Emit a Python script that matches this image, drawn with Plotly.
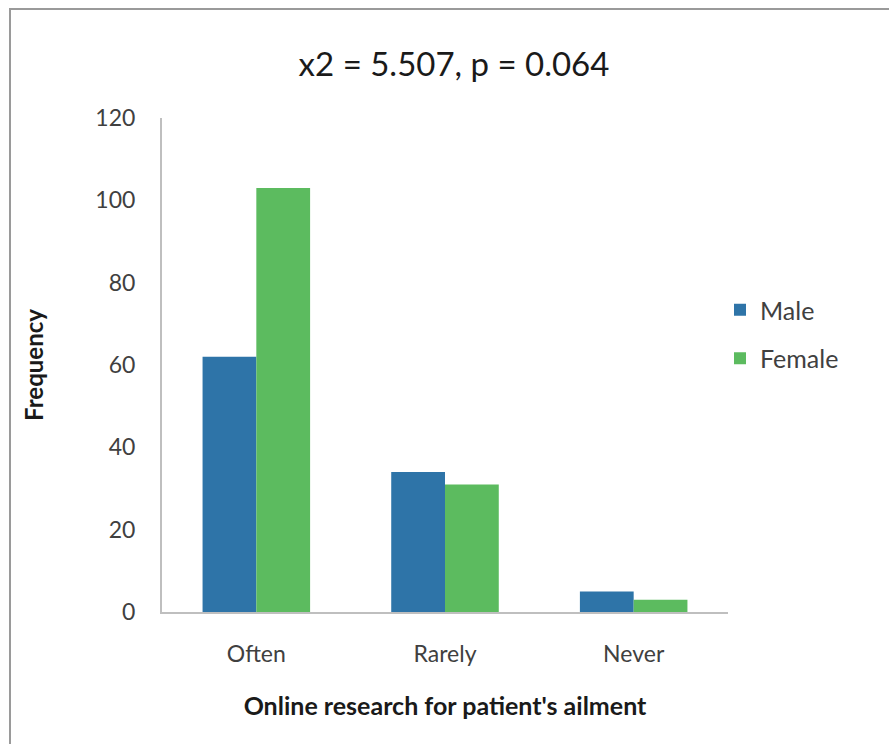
import plotly.graph_objects as go

categories = ["Often", "Rarely", "Never"]
male = [62, 34, 5]
female = [103, 31, 3]
y_ticks = [0, 20, 40, 60, 80, 100, 120]

W, H = 889, 744
L, R, T, B = 162, 161, 118, 132
pw, ph = W - L - R, H - T - B

font_family = "Lato, Open Sans, sans-serif"

fig = go.Figure()
fig.add_trace(go.Bar(name="Male", x=categories, y=male, marker_color="#2e74a8",
                     marker_line_width=0, legendgroup="m"))
fig.add_trace(go.Bar(name="Female", x=categories, y=female, marker_color="#5cbb5f",
                     marker_line_width=0, legendgroup="f"))


def px_x(p):
    return (p - L) / pw


def px_y(p):
    return (H - B - p) / ph


# outer frame around the whole chart
fig.add_shape(type="rect", xref="paper", yref="paper",
              x0=px_x(10), x1=px_x(W + 20), y0=px_y(H + 20), y1=px_y(9),
              line=dict(color="#9a9a9a", width=2), fillcolor="rgba(0,0,0,0)", layer="below")

fig.update_layout(
    width=W, height=H,
    margin=dict(l=L, r=R, t=T, b=B),
    paper_bgcolor="white", plot_bgcolor="white",
    barmode="group", bargap=0.43, bargroupgap=0,
    font=dict(family=font_family, color="#404040", size=23),
    title=dict(text="x2 = 5.507, p = 0.064", x=px_x(454), xref="paper", xanchor="center",
               y=1 - 64 / H, yanchor="middle",
               font=dict(size=33, color="#1a1a1a", family=font_family)),
    legend=dict(x=px_x(720), y=px_y(287), xanchor="left", yanchor="top",
                font=dict(size=25, color="#404040"), tracegroupgap=13,
                traceorder="grouped", itemwidth=30, bgcolor="rgba(0,0,0,0)"),
    xaxis=dict(showline=True, linecolor="#bfbfbf", linewidth=2,
               tickfont=dict(size=23), ticks="", showgrid=False, ticklabelstandoff=20,
               title=dict(text="<b>Online research for patient's ailment</b>",
                          font=dict(size=25, color="#1a1a1a"), standoff=32)),
    yaxis=dict(range=[0, 120], tickvals=y_ticks, showline=True, linecolor="#bfbfbf",
               linewidth=2, showgrid=False, zeroline=False, ticks="",
               tickfont=dict(size=23), ticklabelstandoff=20,
               title=dict(text="<b>Frequency</b>", font=dict(size=24, color="#1a1a1a"),
                          standoff=45)),
)

fig.write_html("out.html")
